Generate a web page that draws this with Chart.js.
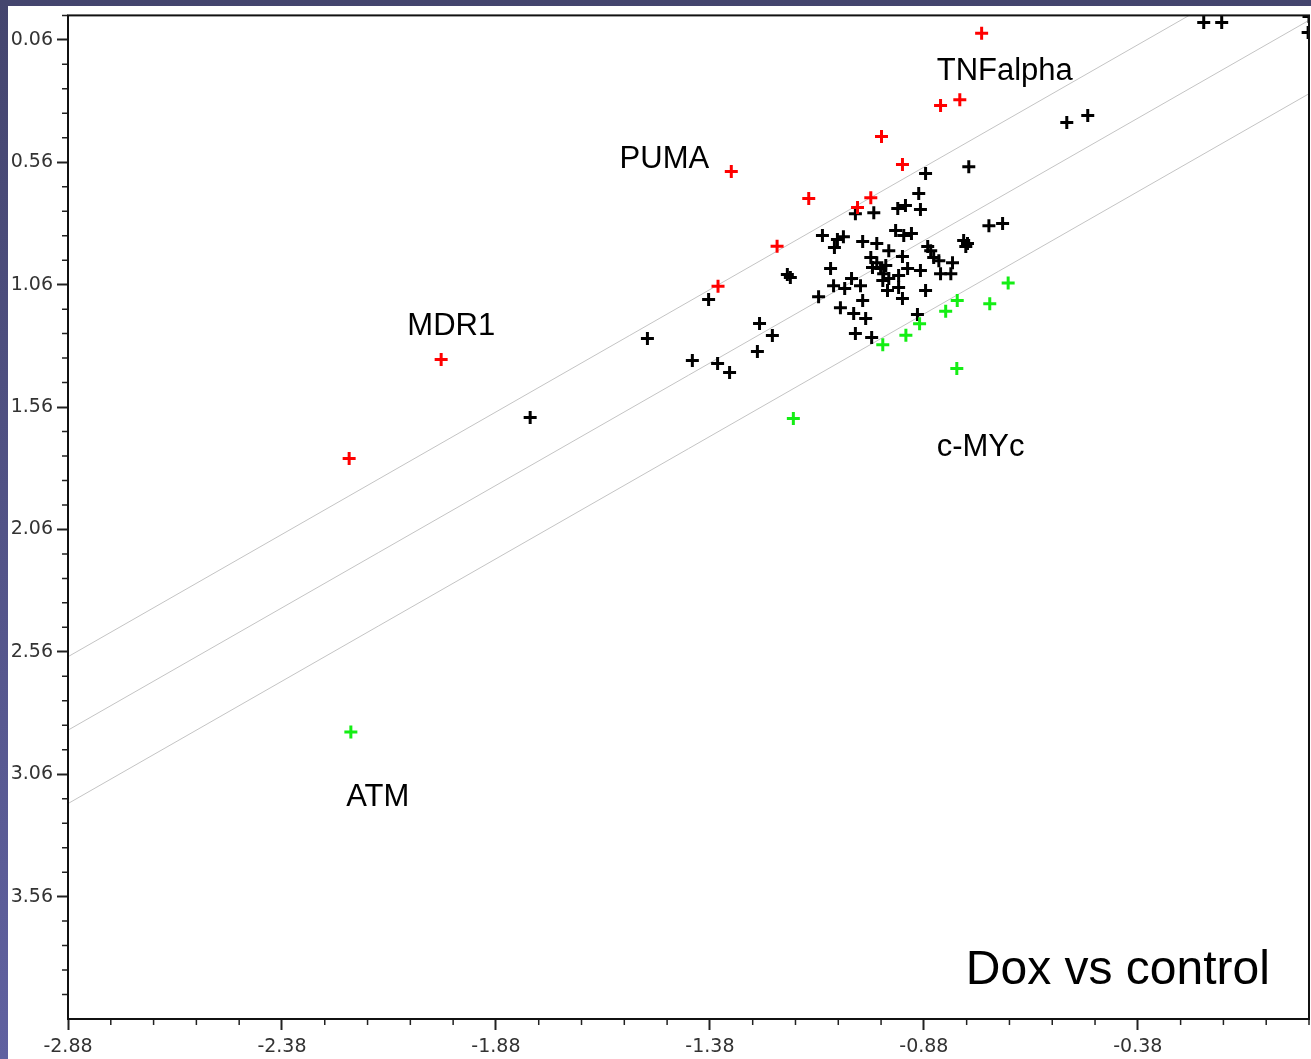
<!DOCTYPE html>
<html>
<head>
<meta charset="utf-8">
<title>Dox vs control</title>
<script src="https://cdn.jsdelivr.net/npm/chart.js@4.4.0/dist/chart.umd.min.js"></script>
<style>
  html, body { margin: 0; padding: 0; background: #fff; overflow: hidden; }
</style>
</head>
<body>
<canvas id="chart" width="1311" height="1059"></canvas>
<script>
// genes: x = bottom axis value, y = left axis value (axis runs downwards)
const blackX = [-0.226, -0.184, 0.020, 0.018, -0.546, -0.497, -0.775, -0.876, -0.892, -0.941,
  -0.923, -0.888, -1.040, -0.997, -1.117, -1.082, -1.068, -1.089, -1.023, -0.990,
  -0.946, -0.927, -0.909, -0.871, -0.864, -0.857, -0.845, -0.813, -0.841, -0.817,
  -0.787, -0.778, -0.782, -0.728, -0.696, -1.098, -1.049, -1.004, -1.000, -0.981,
  -0.974, -0.962, -0.962, -0.930, -0.918, -0.888, -0.939, -0.939, -0.930, -0.965,
  -1.091, -1.065, -1.028, -1.126, -1.075, -1.044, -1.023, -1.016, -1.040, -1.002,
  -0.876, -0.895, -0.969, -0.990, -1.264, -1.234, -1.269, -1.199, -1.192, -1.383,
  -1.526, -1.421, -1.362, -1.334, -1.800, -0.976];
const blackY = [-0.011, -0.011, -0.035, 0.030, 0.398, 0.369, 0.578, 0.606, 0.688, 0.749,
  0.737, 0.753, 0.770, 0.766, 0.859, 0.876, 0.864, 0.908, 0.884, 0.892,
  0.839, 0.859, 0.851, 0.904, 0.921, 0.949, 0.962, 0.970, 1.015, 1.015,
  0.880, 0.892, 0.904, 0.819, 0.810, 0.994, 1.035, 0.949, 0.990, 0.994,
  1.015, 1.035, 0.921, 0.945, 0.994, 1.002, 1.023, 1.072, 1.117, 1.084,
  1.064, 1.076, 1.064, 1.109, 1.154, 1.178, 1.125, 1.198, 1.260, 1.276,
  1.084, 1.182, 0.982, 0.970, 1.219, 1.268, 1.333, 1.019, 1.031, 1.121,
  1.280, 1.370, 1.382, 1.419, 1.603, 1.043];

const redX = [-0.745, -0.841, -0.796, -0.979, -0.930, -1.004, -1.035, -1.149, -1.330, -1.223, -1.361, -2.008, -2.223];
const redY = [0.033, 0.328, 0.305, 0.455, 0.569, 0.705, 0.745, 0.708, 0.598, 0.903, 1.067, 1.366, 1.770];

const greenX = [-2.219, -1.185, -0.803, -0.683, -0.726, -0.802, -0.829, -0.890, -0.922, -0.976];
const greenY = [2.888, 1.607, 1.403, 1.053, 1.138, 1.125, 1.169, 1.220, 1.267, 1.305];

// reference lines y = -x + c
const lineOffsets = [-0.3, 0, 0.3];

const xTickLabels = ["-2.88", "-2.38", "-1.88", "-1.38", "-0.88", "-0.38"];
const yTickLabels = ["0.06", "0.56", "1.06", "1.56", "2.06", "2.56", "3.06", "3.56"];

const geneNames = ["TNFalpha", "PUMA", "MDR1", "c-MYc", "ATM"];
const geneLabelX = [-0.850, -1.591, -2.087, -0.850, -2.230];
const geneLabelY = [0.189, 0.549, 1.231, 1.725, 3.155];

const chartTitle = "Dox vs control";
const titleX = -0.782;
const titleY = 3.862;

const xMin = -2.88, xMax = 0.02;
const yMin = -0.04, yMax = 4.06;
const minorStep = 0.1;

const toPoints = (xs, ys) => xs.map((v, i) => ({ x: v, y: ys[i] }));

const background = {
  id: 'background',
  beforeDraw(chart) {
    const ctx = chart.ctx;
    ctx.save();
    ctx.fillStyle = '#ffffff';
    ctx.fillRect(0, 0, chart.width, chart.height);
    const g = ctx.createLinearGradient(0, 0, 0, chart.height);
    g.addColorStop(0, '#44456e');
    g.addColorStop(1, '#6061a0');
    ctx.fillStyle = g;
    ctx.fillRect(0, 0, chart.width, 6);
    ctx.fillRect(0, 0, 8, chart.height);
    ctx.restore();
  }
};

const frameAndTicks = {
  id: 'frameAndTicks',
  afterDraw(chart) {
    const { ctx, chartArea: a, scales: { x, y } } = chart;
    ctx.save();
    ctx.strokeStyle = '#222';
    ctx.lineWidth = 1.5;
    ctx.beginPath();
    const nx = Math.round((xMax - xMin) / minorStep);
    for (let i = 0; i <= nx; i++) {
      if (i % 5 === 0) continue;
      const px = x.getPixelForValue(xMin + i * minorStep);
      ctx.moveTo(px, a.bottom);
      ctx.lineTo(px, a.bottom + 6);
    }
    const ny = Math.round((yMax - yMin) / minorStep);
    for (let i = 0; i <= ny; i++) {
      if ((i - 1) % 5 === 0) continue;
      const py = y.getPixelForValue(yMin + i * minorStep);
      ctx.moveTo(a.left - 6, py);
      ctx.lineTo(a.left, py);
    }
    ctx.stroke();
    ctx.lineWidth = 2;
    ctx.strokeStyle = '#111';
    ctx.strokeRect(a.left, a.top, a.right - a.left, a.bottom - a.top);
    ctx.restore();
  }
};

const textLabels = {
  id: 'textLabels',
  afterDatasetsDraw(chart) {
    const { ctx, scales: { x, y } } = chart;
    ctx.save();
    ctx.fillStyle = '#000';
    ctx.textAlign = 'left';
    ctx.textBaseline = 'middle';
    ctx.font = '31px "Liberation Sans", Arial, sans-serif';
    geneNames.forEach((name, i) => {
      ctx.fillText(name, x.getPixelForValue(geneLabelX[i]), y.getPixelForValue(geneLabelY[i]));
    });
    ctx.font = '48px "Liberation Sans", Arial, sans-serif';
    ctx.fillText(chartTitle, x.getPixelForValue(titleX), y.getPixelForValue(titleY));
    ctx.restore();
  }
};

const crossStyle = { pointStyle: 'cross', pointRadius: 6.5, borderWidth: 3 };

new Chart(document.getElementById('chart'), {
  type: 'scatter',
  data: {
    datasets: [
      { ...crossStyle, label: 'up', data: toPoints(redX, redY), borderColor: '#ff0000', order: 1 },
      { ...crossStyle, label: 'down', data: toPoints(greenX, greenY), borderColor: '#14ee14', order: 1 },
      { ...crossStyle, label: 'unchanged', data: toPoints(blackX, blackY), borderColor: '#000000', order: 2 },
      ...lineOffsets.map((c) => ({
        label: 'y = -x ' + c,
        data: [{ x: xMin, y: -xMin + c }, { x: xMax, y: -xMax + c }],
        showLine: true,
        pointRadius: 0,
        borderColor: '#c4c4c4',
        borderWidth: 1,
        order: 3
      }))
    ]
  },
  options: {
    responsive: false,
    animation: false,
    events: [],
    layout: { autoPadding: false, padding: { top: 15, left: 0, right: 2, bottom: 0 } },
    plugins: { legend: { display: false }, tooltip: { enabled: false } },
    scales: {
      x: {
        type: 'linear',
        min: xMin,
        max: xMax,
        afterBuildTicks: (s) => { s.ticks = xTickLabels.map((t) => ({ value: parseFloat(t) })); },
        afterFit: (s) => { s.height = 40; },
        grid: { drawOnChartArea: false, tickLength: 11, tickColor: '#222', tickWidth: 2 },
        border: { display: false },
        ticks: {
          padding: 6,
          maxRotation: 0,
          color: '#333',
          font: { family: 'DejaVu Sans', size: 19 },
          callback: (v) => xTickLabels.find((t) => Math.abs(parseFloat(t) - v) < 1e-6)
        }
      },
      y: {
        type: 'linear',
        reverse: true,
        min: yMin,
        max: yMax,
        afterBuildTicks: (s) => { s.ticks = yTickLabels.map((t) => ({ value: parseFloat(t) })); },
        afterFit: (s) => { s.width = 68; },
        grid: { drawOnChartArea: false, tickLength: 11, tickColor: '#222', tickWidth: 2 },
        border: { display: false },
        ticks: {
          padding: 4,
          color: '#333',
          font: { family: 'DejaVu Sans', size: 19 },
          callback: (v) => yTickLabels.find((t) => Math.abs(parseFloat(t) - v) < 1e-6)
        }
      }
    }
  },
  plugins: [background, frameAndTicks, textLabels]
});
</script>
</body>
</html>
